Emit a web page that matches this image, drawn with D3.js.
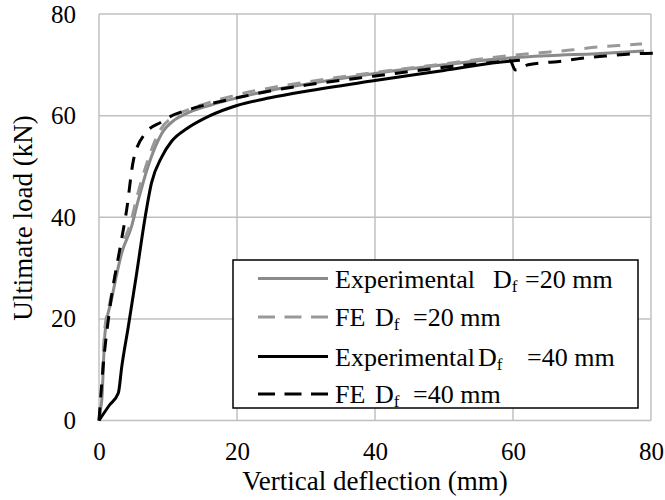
<!DOCTYPE html>
<html>
<head>
<meta charset="utf-8">
<script src="https://cdn.jsdelivr.net/npm/d3@7"></script>
</head>
<body style="margin:0; background:#fff">
<div id="chart"></div>
<script>
// data
var xTicks = [0, 20, 40, 60, 80]
var yTicks = [0, 20, 40, 60, 80]

var exp20X = [0, 0.2, 0.4, 0.87, 1.8, 3.3, 4.7, 5.7, 7.1, 9.1, 11, 12.8, 16, 20, 25, 30, 40, 50, 58, 65, 72, 79]
var exp20Y = [0, 2, 4, 17.2, 23.7, 33, 38.1, 43.4, 50, 56.5, 59.2, 60.5, 62, 63.5, 65, 66.2, 68.3, 70, 71.2, 71.8, 72.2, 72.7]

var fe20X = [0, 0.3, 0.8, 1.7, 3.1, 4.5, 5.5, 6.9, 8.8, 10.8, 12.8, 16, 20, 25, 30, 40, 50, 60, 64.3, 68.3, 72.3, 76.5, 78.7]
var fe20Y = [0, 4, 17.5, 24, 33.5, 38.5, 44, 50.5, 57, 59.8, 61.1, 62.6, 64.1, 65.5, 66.6, 68.5, 70.2, 71.9, 72.4, 72.9, 73.5, 73.9, 74.1]

var exp40X = [0, 1.5, 2.8, 3.3, 4.25, 5.46, 6.7, 7.6, 9.1, 10.5, 12.8, 16.1, 20, 24.8, 30, 40, 50, 58, 61]
var exp40Y = [0, 3, 5.4, 10.6, 18.5, 29, 40.1, 46.7, 51.9, 54.9, 57.5, 60, 62, 63.5, 64.8, 66.9, 68.9, 70.5, 70.9]

var fe40X = [0, 0.6, 1.6, 3.0, 4.0, 5.0, 6.7, 9.1, 10.3, 12.8, 16, 20, 25, 30, 40, 50, 58, 59.6, 60.3, 62.2, 64.3, 66.4, 70, 74, 78, 81]
var fe40Y = [0, 10.6, 22.4, 33.6, 41.4, 51.3, 56.5, 58.8, 59.8, 61.1, 62.3, 63.5, 64.9, 66, 67.8, 69.5, 70.6, 70.8, 69, 70, 70.4, 70.6, 71.3, 71.8, 72.2, 72.3]

var width = 665
var height = 500
var serif = "'Liberation Serif'"

var svg = d3.select("#chart")
  .append("svg")
  .attr("width", width)
  .attr("height", height)

var x = d3.scaleLinear().domain([0, 80]).range([99, 651])
var y = d3.scaleLinear().domain([0, 80]).range([420.5, 14])

// gridlines (also act as the frame)
svg.append("g")
  .selectAll("line.v")
  .data(xTicks)
  .enter()
  .append("line")
  .attr("x1", function(d) { return x(d) })
  .attr("x2", function(d) { return x(d) })
  .attr("y1", y(0))
  .attr("y2", y(80))
  .attr("stroke", "#c0c0c0")
  .attr("stroke-width", 1.5)

svg.append("g")
  .selectAll("line.h")
  .data(yTicks)
  .enter()
  .append("line")
  .attr("x1", x(0))
  .attr("x2", x(80))
  .attr("y1", function(d) { return y(d) })
  .attr("y2", function(d) { return y(d) })
  .attr("stroke", "#c0c0c0")
  .attr("stroke-width", 1.5)

// axes, only used for the labels
var xAxis = svg.append("g")
  .attr("transform", "translate(0," + y(0) + ")")
  .call(d3.axisBottom(x).tickValues(xTicks).tickSize(0).tickPadding(0))
xAxis.select(".domain").remove()
xAxis.selectAll("text")
  .attr("y", 39.5)
  .attr("dy", null)
  .style("font-size", "25px")

var yAxis = svg.append("g")
  .attr("transform", "translate(" + x(0) + ",0)")
  .call(d3.axisLeft(y).tickValues(yTicks).tickSize(0).tickPadding(0))
yAxis.select(".domain").remove()
yAxis.selectAll("text")
  .attr("x", -23)
  .attr("dy", "8px")
  .style("font-size", "25px")

// curves
var series = [
  { xs: exp20X, ys: exp20Y, color: "#8a8a8a", dash: null },
  { xs: fe20X, ys: fe20Y, color: "#999999", dash: "13,10" },
  { xs: exp40X, ys: exp40Y, color: "#000000", dash: null },
  { xs: fe40X, ys: fe40Y, color: "#000000", dash: "13,10" }
]

var line = d3.line()
  .x(function(d) { return x(d[0]) })
  .y(function(d) { return y(d[1]) })
  .curve(d3.curveMonotoneX)

series.forEach(function(s) {
  var pts = s.xs.map(function(v, i) { return [v, s.ys[i]] })
  svg.append("path")
    .datum(pts)
    .attr("d", line)
    .attr("fill", "none")
    .attr("stroke", s.color)
    .attr("stroke-width", 3)
    .attr("stroke-dasharray", s.dash)
})

// axis titles
svg.append("text")
  .attr("x", 375)
  .attr("y", 490)
  .attr("text-anchor", "middle")
  .style("font-size", "27px")
  .text("Vertical deflection (mm)")

svg.append("text")
  .attr("transform", "translate(32,218) rotate(-90)")
  .attr("text-anchor", "middle")
  .style("font-size", "27px")
  .text("Ultimate load (kN)")

// legend
var legend = svg.append("g")
legend.append("rect")
  .attr("x", 233)
  .attr("y", 260)
  .attr("width", 405)
  .attr("height", 148)
  .attr("fill", "#fff")
  .attr("stroke", "#000")
  .attr("stroke-width", 1.5)

var legendLabels = ["Experimental", "FE", "Experimental", "FE"]
var legendValues = ["=20 mm", "=20 mm", "=40 mm", "=40 mm"]
var legendDX = [493, 375, 478, 375]
var legendEX = [525, 413, 527, 413]
var rowY = [278.5, 317, 356.5, 394]

series.forEach(function(s, i) {
  legend.append("line")
    .attr("x1", 258)
    .attr("x2", 328)
    .attr("y1", rowY[i])
    .attr("y2", rowY[i])
    .attr("stroke", s.color)
    .attr("stroke-width", 3)
    .attr("stroke-dasharray", s.dash ? "17,9.5" : null)

  var t = legend.append("text")
    .attr("x", 335)
    .attr("y", rowY[i] + 9)
    .style("font-size", "26px")
  t.append("tspan").text(legendLabels[i])
  t.append("tspan").attr("x", legendDX[i]).text("D")
  t.append("tspan").attr("dy", 4).style("font-size", "17px").text("f")
  t.append("tspan").attr("x", legendEX[i]).attr("dy", -4).text(legendValues[i])
})

// Times-like font everywhere
svg.selectAll("text")
  .style("font-family", serif)
  .attr("fill", "#000")
</script>
</body>
</html>
